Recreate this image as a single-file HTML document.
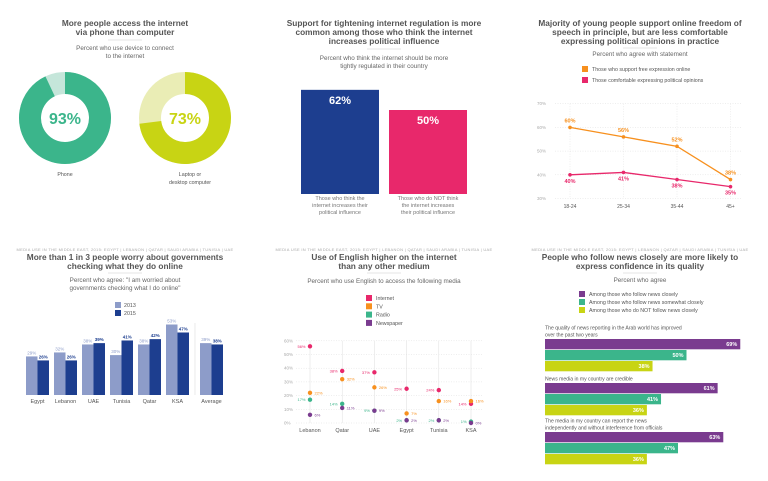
<!DOCTYPE html>
<html><head><meta charset="utf-8">
<style>
body{margin:0;background:#fff;width:768px;height:481px;overflow:hidden;font-family:"Liberation Sans",sans-serif}
svg{display:block}
.t{font-size:8.3px;font-weight:bold;fill:#555;text-anchor:middle}
.s{font-size:6.3px;fill:#666;text-anchor:middle}
.src{font-size:4px;fill:#aaa;text-anchor:middle;letter-spacing:.3px}
.sm{font-size:5.3px;fill:#555}
.tk{font-size:4.5px;fill:#aaa}
</style></head><body>
<svg id="c" width="768" height="481" viewBox="0 0 768 481">
<g>
<text class="t" x="125" y="26">More people access the internet</text>
<text class="t" x="125" y="35">via phone than computer</text>
<line x1="108" y1="40" x2="142" y2="40" stroke="#ccc" stroke-width="0.6"/>
<text class="s" x="125" y="50">Percent who use device to connect</text>
<text class="s" x="125" y="58">to the internet</text>
<g id="donuts"></g>
</g>
<g>
<text class="t" x="384" y="26">Support for tightening internet regulation is more</text>
<text class="t" x="384" y="35">common among those who think the internet</text>
<text class="t" x="384" y="44">increases political influence</text>
<line x1="367" y1="49" x2="401" y2="49" stroke="#ccc" stroke-width="0.6"/>
<text class="s" x="384" y="60">Percent who think the internet should be more</text>
<text class="s" x="384" y="68">tightly regulated in their country</text>
<g id="reg"></g>
</g>
<g>
<text class="t" x="640" y="26">Majority of young people support online freedom of</text>
<text class="t" x="640" y="35">speech in principle, but are less comfortable</text>
<text class="t" x="640" y="44">expressing political opinions in practice</text>
<line x1="623" y1="48" x2="657" y2="48" stroke="#ccc" stroke-width="0.6"/>
<text class="s" x="640" y="56">Percent who agree with statement</text>
<rect x="582" y="66" width="6" height="6" fill="#f7901e"/>
<text class="sm" x="592" y="71">Those who support free expression online</text>
<rect x="582" y="77" width="6" height="6" fill="#e8286b"/>
<text class="sm" x="592" y="82">Those comfortable expressing political opinions</text>
<g id="line"></g>
</g>
<g>
<text class="src" x="125" y="251">MEDIA USE IN THE MIDDLE EAST, 2015: EGYPT | LEBANON | QATAR | SAUDI ARABIA | TUNISIA | UAE</text>
<text class="t" x="125" y="260">More than 1 in 3 people worry about governments</text>
<text class="t" x="125" y="269">checking what they do online</text>
<line x1="108" y1="273" x2="142" y2="273" stroke="#ccc" stroke-width="0.6"/>
<text class="s" x="125" y="282">Percent who agree: "I am worried about</text>
<text class="s" x="125" y="290">governments checking what I do online"</text>
<rect x="115" y="302" width="6" height="6" fill="#8d9cc9"/>
<text class="sm" x="124" y="307">2013</text>
<rect x="115" y="310" width="6" height="6" fill="#1d3e8f"/>
<text class="sm" x="124" y="315">2015</text>
<g id="gov"></g>
</g>
<g>
<text class="src" x="384" y="251">MEDIA USE IN THE MIDDLE EAST, 2015: EGYPT | LEBANON | QATAR | SAUDI ARABIA | TUNISIA | UAE</text>
<text class="t" x="384" y="260">Use of English higher on the internet</text>
<text class="t" x="384" y="269">than any other medium</text>
<line x1="367" y1="273" x2="401" y2="273" stroke="#ccc" stroke-width="0.6"/>
<text class="s" x="384" y="283">Percent who use English to access the following media</text>
<g id="eng"></g>
</g>
<g>
<text class="src" x="640" y="251">MEDIA USE IN THE MIDDLE EAST, 2015: EGYPT | LEBANON | QATAR | SAUDI ARABIA | TUNISIA | UAE</text>
<text class="t" x="640" y="260">People who follow news closely are more likely to</text>
<text class="t" x="640" y="269">express confidence in its quality</text>
<line x1="623" y1="273" x2="657" y2="273" stroke="#ccc" stroke-width="0.6"/>
<text class="s" x="640" y="282">Percent who agree</text>
<g id="news"></g>
</g>
</svg>
<script>
// ---- data ----
const deviceLabels=[["Phone"],["Laptop or","desktop computer"]];
const deviceValues=[93,73];
const regLabels=[["Those who think the","internet increases their","political influence"],["Those who do NOT think","the internet increases","their political influence"]];
const regValues=[62,50];
const ageGroups=["18-24","25-34","35-44","45+"];
const freeExpr=[60,56,52,38];
const comfortable=[40,41,38,35];
const freeTicks=[30,40,50,60,70];
const govCountries=["Egypt","Lebanon","UAE","Tunisia","Qatar","KSA","Average"];
const gov2013=[29,32,38,30,38,53,39];
const gov2015=[26,26,39,41,42,47,38];
const engCountries=["Lebanon","Qatar","UAE","Egypt","Tunisia","KSA"];
const engInternet=[56,38,37,25,24,14];
const engTV=[22,32,26,7,16,16];
const engRadio=[17,14,9,2,2,1];
const engNewspaper=[6,11,9,2,2,0];
const engTicks=[0,10,20,30,40,50,60];
const engMedia=["Internet","TV","Radio","Newspaper"];
const newsStatements=[["The quality of news reporting in the Arab world has improved","over the past two years"],["News media in my country are credible"],["The media in my country can report the news","independently and without interference from officials"]];
const newsClose=[69,61,63];
const newsSomewhat=[50,41,47];
const newsNot=[38,36,36];
const newsLegend=["Among those who follow news closely","Among those who follow news somewhat closely","Among those who do NOT follow news closely"];

const NS="http://www.w3.org/2000/svg";
function mk(p,tag,a,txt){const e=document.createElementNS(NS,tag);for(const k in a)e.setAttribute(k,a[k]);if(txt!=null)e.textContent=txt;p.appendChild(e);return e;}

// donuts
(function(){
const g=document.getElementById('donuts');
const cx=[65,185],cy=118,R=46,r=24;
const cols=[["#3bb58b","#c5e6da"],["#c8d414","#eaedb5"]];
deviceValues.forEach((v,i)=>{
 const bg=mk(g,'circle',{cx:cx[i],cy:cy,r:(R+r)/2,fill:'none',stroke:cols[i][1],'stroke-width':R-r});
 
 
 const a=v/100*2*Math.PI, rr=(R+r)/2;
 const x2=cx[i]+rr*Math.sin(a), y2=cy-rr*Math.cos(a);
 const arc=mk(g,'path',{d:`M${cx[i]},${cy-rr} A${rr},${rr} 0 ${v>50?1:0} 1 ${x2},${y2}`,fill:'none',stroke:cols[i][0],'stroke-width':R-r});
 
 
 const t=mk(g,'text',{x:cx[i],y:cy+6,'text-anchor':'middle','font-size':'16px','font-weight':'bold',fill:cols[i][0]},v+'%');
 
 
 deviceLabels[i].forEach((l,j)=>{const tl=mk(g,'text',{x:cx[i]+(i?5:0),y:176+j*8,'text-anchor':'middle',class:'sm'},l);
 
 });
});
})();

// regulation bars
(function(){
const g=document.getElementById('reg');
const base=194,sc=1.68,xs=[301,389],w=78,cols=["#1d3e8f","#e8286b"];
regValues.forEach((v,i)=>{
 const h=v*sc;
 const b=mk(g,'rect',{x:xs[i],y:base-h,width:w,height:h,fill:cols[i]});
 
 
 const t=mk(g,'text',{x:xs[i]+w/2,y:base-h+14,'text-anchor':'middle','font-size':'11px','font-weight':'bold',fill:'#fff'},v+'%');
 
 
 regLabels[i].forEach((l,j)=>{const tl=mk(g,'text',{x:xs[i]+w/2,y:200+j*7,'text-anchor':'middle','font-size':'5.5px',fill:'#777'},l);
 
 });
});
})();

// line chart
(function(){
const g=document.getElementById('line');
const y=v=>198.5-(v-30)*2.37;
const xs=i=>570+i*53.5;
freeTicks.forEach(t=>{
 const l=mk(g,'line',{x1:555,x2:742,y1:y(t),y2:y(t),stroke:'#ddd','stroke-width':0.5,'stroke-dasharray':'1,1.5'});
 
 
 const tt=mk(g,'text',{x:537,y:y(t)+1.5,class:'tk'},t+'%');
 
 
});
ageGroups.forEach((a,i)=>{
 const l=mk(g,'line',{x1:xs(i),x2:xs(i),y1:y(70),y2:y(30),stroke:'#ddd','stroke-width':0.5,'stroke-dasharray':'1,1.5'});
 
 
 const t=mk(g,'text',{x:xs(i),y:208,'text-anchor':'middle','font-size':'5px',fill:'#555'},a);
 
 
});
[[freeExpr,"#f7901e",-1],[comfortable,"#e8286b",1]].forEach(([arr,c,dir],k)=>{
 const p=mk(g,'polyline',{points:arr.map((v,i)=>xs(i)+','+y(v)).join(' '),fill:'none',stroke:c,'stroke-width':1.3});
 
 
 arr.forEach((v,i)=>{
  const d=mk(g,'circle',{cx:xs(i),cy:y(v),r:1.8,fill:c});
  
  
  const t=mk(g,'text',{x:xs(i),y:y(v)+(dir<0?-5:8),'text-anchor':'middle','font-size':'5.5px','font-weight':'bold',fill:c},v+'%');
  
  
 });
});
})();

// gov bars
(function(){
const g=document.getElementById('gov');
const base=395,sc=1.33;
const x0=[26,54,82,110,138,166,200];
const sep=mk(g,'line',{x1:195,x2:195,y1:323,y2:395,stroke:'#ddd','stroke-width':0.6});


govCountries.forEach((c,i)=>{
 [[gov2013,"#8d9cc9",0],[gov2015,"#1d3e8f",11.5]].forEach(([arr,col,off],k)=>{
  const h=arr[i]*sc;
  const b=mk(g,'rect',{x:x0[i]+off,y:base-h,width:11.5,height:h,fill:col});
  
  
  const t=mk(g,'text',{x:x0[i]+off+5.75,y:base-h-2,'text-anchor':'middle','font-size':'4.5px','font-weight':k?'bold':'normal',fill:col},arr[i]+'%');
  
  
 });
 const t=mk(g,'text',{x:x0[i]+11.5,y:403,'text-anchor':'middle','font-size':'5.5px',fill:'#555'},c);
 
 
});
})();

// English dot plot
(function(){
const g=document.getElementById('eng');
const cols=["#e8286b","#f7901e","#3bb58b","#7a3b8f"];
engMedia.forEach((m,i)=>{
 const s=mk(g,'rect',{x:366,y:295+i*8.3,width:6,height:6,fill:cols[i]});
 
 
 const t=mk(g,'text',{x:376,y:300+i*8.3,class:'sm'},m);
 
 
});
const y=v=>423-v*1.37;
const xs=i=>310+i*32.2;
engTicks.forEach(t=>{
 const l=mk(g,'line',{x1:296,x2:482,y1:y(t),y2:y(t),stroke:'#ddd','stroke-width':0.5,'stroke-dasharray':'1,1.5'});
 
 
 const tt=mk(g,'text',{x:284,y:y(t)+1.5,class:'tk'},t+'%');
 
 
});
engCountries.forEach((c,i)=>{
 const l=mk(g,'line',{x1:xs(i),x2:xs(i),y1:y(60),y2:y(0),stroke:'#ddd','stroke-width':0.5});
 
 
 const t=mk(g,'text',{x:xs(i),y:432,'text-anchor':'middle','font-size':'5.5px',fill:'#555'},c);
 
 
});
[engInternet,engTV,engRadio,engNewspaper].forEach((arr,k)=>{
 const side=(k%2===0)?-1:1;
 arr.forEach((v,i)=>{
  const d=mk(g,'circle',{cx:xs(i),cy:y(v),r:2.2,fill:cols[k]});
  
  
  const t=mk(g,'text',{x:xs(i)+side*4.5,y:y(v)+1.5,'text-anchor':side<0?'end':'start','font-size':'4px',fill:cols[k]},v+'%');
  
  
 });
});
})();

// news bars
(function(){
const g=document.getElementById('news');
const cols=["#7a3b8f","#3bb58b","#c8d414"];
newsLegend.forEach((l,i)=>{
 const s=mk(g,'rect',{x:579,y:291+i*8,width:6,height:6,fill:cols[i]});
 
 
 const t=mk(g,'text',{x:589,y:296+i*8,class:'sm',fill:'#777'},l);
 
 
});
const tops=[339,383,432], x0=545, sc=2.83;
newsStatements.forEach((lines,gi)=>{
 lines.forEach((l,j)=>{const t=mk(g,'text',{x:545,y:tops[gi]-2.5-(lines.length-1-j)*7,'font-size':'5.1px',fill:'#555'},l);
 
 });
 [newsClose,newsSomewhat,newsNot].forEach((arr,k)=>{
  const w=arr[gi]*sc, yy=tops[gi]+k*11;
  const b=mk(g,'rect',{x:x0,y:yy,width:w,height:10.3,fill:cols[k]});
  
  
  const t=mk(g,'text',{x:x0+w-3,y:yy+7,'text-anchor':'end','font-size':'5.5px','font-weight':'bold',fill:'#fff'},arr[gi]+'%');
  
  
 });
});
})();
</script>
</body></html>
